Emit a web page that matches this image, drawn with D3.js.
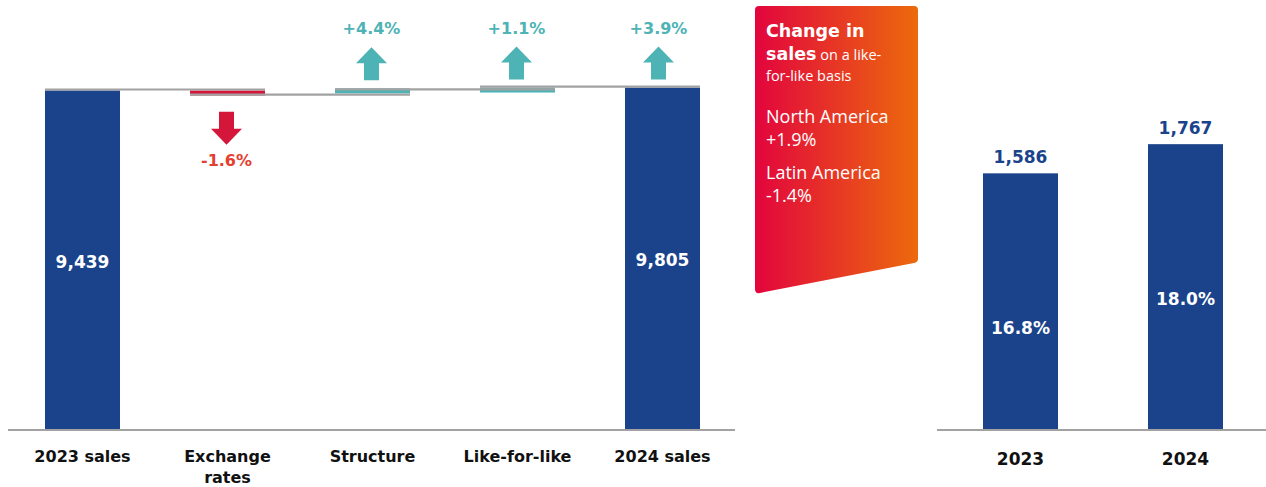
<!DOCTYPE html>
<html>
<head>
<meta charset="utf-8">
<script src="https://cdn.jsdelivr.net/npm/d3@7"></script>
<style>
  html, body { margin: 0; padding: 0; background: #fff; }
  svg { display: block; font-family: "Open Sans", "Noto Sans", sans-serif; }
  .b { font-family: "DejaVu Sans", "Open Sans", sans-serif; font-weight: 700; }
</style>
</head>
<body>
<svg id="chart" width="1266" height="487"></svg>
<script>
// ---- data ----
const wfCategories = ["2023 sales", "Exchange rates", "Structure", "Like-for-like", "2024 sales"];
const salesStart = 9439;
const salesEnd = 9805;
const stepPct = [-1.6, 4.4, 1.1];      // exchange rates, structure, like-for-like
const totalPct = 3.9;
const lflRegions = ["North America", "Latin America"];
const lflRegionPct = [1.9, -1.4];
const ebitYears = ["2023", "2024"];
const ebitValues = [1586, 1767];
const marginPct = [16.8, 18.0];

// ---- style ----
const NAVY = "#1a438b", TEAL = "#4db3b5", RED = "#d3163a", RED_TXT = "#e5402f", GREY = "#a2a2a2";
const svg = d3.select("#chart");
const fmt = d3.format(",");
const pct = v => (v > 0 ? "+" : "") + v.toFixed(1) + "%";
const baseY = 429, barW = 75;

// ================= waterfall =================
const xW = d3.scalePoint().domain(wfCategories).range([10, 735]).padding(0.5);
// compressed axis: the range above 9,000 is stretched so the steps stay legible
const yW = d3.scaleLinear().domain([0, 9000, 10000]).range([baseY, 94, 86]);

// running totals
const steps = stepPct.map(p => salesStart * p / 100);
const levels = [salesStart];
steps.forEach(s => levels.push(levels[levels.length - 1] + s));

const gW = svg.append("g");

// step bars (minimum visible thickness)
const minH = 5;
steps.forEach((s, i) => {
  const a = levels[i], b = levels[i + 1];
  const top = Math.min(yW(a), yW(b));
  const h = Math.max(Math.abs(yW(a) - yW(b)), minH);
  gW.append("rect")
    .attr("x", xW(wfCategories[i + 1]) - barW / 2).attr("y", top)
    .attr("width", barW).attr("height", h)
    .attr("fill", s < 0 ? RED : TEAL);
});

// total bars
[[wfCategories[0], salesStart], [wfCategories[4], salesEnd]].forEach(([c, v]) => {
  gW.append("rect")
    .attr("x", xW(c) - barW / 2).attr("y", yW(v))
    .attr("width", barW).attr("height", baseY - yW(v))
    .attr("fill", NAVY);
  gW.append("text").attr("class", "b")
    .attr("x", xW(c)).attr("y", yW(v) + 178)
    .attr("text-anchor", "middle")
    .attr("font-size", 17).attr("fill", "#fff")
    .text(fmt(v));
});

// connector lines between consecutive bars
const connLevels = [salesStart, levels[1], levels[2], salesEnd];
const connOffset = [-1, 3, 1, -1];
connLevels.forEach((v, i) => {
  gW.append("line")
    .attr("x1", xW(wfCategories[i]) - barW / 2)
    .attr("x2", xW(wfCategories[i + 1]) + barW / 2)
    .attr("y1", yW(v) + connOffset[i]).attr("y2", yW(v) + connOffset[i])
    .attr("stroke", GREY).attr("stroke-width", 2.2);
});

// arrows and percentage labels
function arrow(cx, y0, dir, color) {
  // dir = -1 : pointing up, base at y0 ; dir = 1 : pointing down, base at y0
  const shaftW = 15, headW = 31, shaftL = 17, headL = 16;
  const p = d3.path();
  p.moveTo(cx - shaftW / 2, y0);
  p.lineTo(cx - shaftW / 2, y0 + dir * shaftL);
  p.lineTo(cx - headW / 2, y0 + dir * shaftL);
  p.lineTo(cx, y0 + dir * (shaftL + headL));
  p.lineTo(cx + headW / 2, y0 + dir * shaftL);
  p.lineTo(cx + shaftW / 2, y0 + dir * shaftL);
  p.lineTo(cx + shaftW / 2, y0);
  p.closePath();
  gW.append("path").attr("d", p.toString()).attr("fill", color);
}
const arrowItems = stepPct.map((p, i) => ({ cat: wfCategories[i + 1], pct: p, lo: levels[i], hi: levels[i + 1] }))
  .concat([{ cat: wfCategories[4], pct: totalPct, lo: salesEnd, hi: salesEnd }]);
arrowItems.forEach(d => {
  const cx = xW(d.cat) - (d.cat === wfCategories[4] ? 4 : 1);
  if (d.pct < 0) {
    const y0 = Math.max(yW(d.lo), yW(d.hi)) + minH + 15;
    arrow(cx, y0, 1, RED);
    gW.append("text").attr("class", "b").attr("x", cx).attr("y", y0 + 54)
      .attr("text-anchor", "middle").attr("font-size", 16)
      .attr("fill", RED_TXT).text(pct(d.pct));
  } else {
    const y0 = Math.min(yW(d.lo), yW(d.hi)) - 8;
    arrow(cx, y0, -1, TEAL);
    gW.append("text").attr("class", "b").attr("x", cx).attr("y", y0 - 46)
      .attr("text-anchor", "middle").attr("font-size", 16)
      .attr("fill", TEAL).text(pct(d.pct));
  }
});

// baseline + category labels
gW.append("line").attr("x1", 8).attr("x2", 735).attr("y1", baseY + 1).attr("y2", baseY + 1)
  .attr("stroke", GREY).attr("stroke-width", 2);
wfCategories.forEach(c => {
  const words = c === "Exchange rates" ? ["Exchange", "rates"] : [c];
  const t = gW.append("text").attr("class", "b").attr("x", xW(c)).attr("y", 462)
    .attr("text-anchor", "middle").attr("font-size", 16).attr("fill", "#111");
  words.forEach((w, k) => t.append("tspan").attr("x", xW(c)).attr("dy", k ? 21 : 0).text(w));
});

// ================= like-for-like callout =================
const defs = svg.append("defs");
const grad = defs.append("linearGradient").attr("id", "lflGrad").attr("x1", "0%").attr("x2", "100%");
grad.append("stop").attr("offset", "0%").attr("stop-color", "#e2053d");
grad.append("stop").attr("offset", "100%").attr("stop-color", "#ec6a0c");
svg.append("path")
  .attr("d", "M755,10 Q755,6 759,6 L914,6 Q918,6 918,10 L918,259 Q918,262 914,263 L760,293 Q755,294 755,289 Z")
  .attr("fill", "url(#lflGrad)");
const gB = svg.append("g").attr("fill", "#fff");
gB.append("text").attr("class", "b").attr("x", 766).attr("y", 37).attr("font-size", 17.5).text("Change in");
const t2 = gB.append("text").attr("x", 766).attr("y", 60);
t2.append("tspan").attr("class", "b").attr("font-size", 17.5).text("sales");
t2.append("tspan").attr("font-size", 14.5).text(" on a like-");
gB.append("text").attr("x", 766).attr("y", 81).attr("font-size", 14.5).text("for-like basis");
lflRegions.forEach((r, i) => {
  const y = 123 + i * 56;
  gB.append("text").attr("x", 766).attr("y", y).attr("font-size", 18).text(r);
  gB.append("text").attr("x", 766).attr("y", y + 23).attr("font-size", 18).text(pct(lflRegionPct[i]));
});

// ================= EBIT bars =================
const xR = d3.scalePoint().domain(ebitYears).range([938, 1268]).padding(0.5);
const yR = d3.scaleLinear().domain([0, 2000]).range([baseY, 106.6]);
const gR = svg.append("g");
ebitYears.forEach((yr, i) => {
  const v = ebitValues[i];
  gR.append("rect").attr("x", xR(yr) - barW / 2).attr("y", yR(v))
    .attr("width", barW).attr("height", baseY - yR(v)).attr("fill", NAVY);
  gR.append("text").attr("class", "b").attr("x", xR(yr)).attr("y", yR(v) - 10)
    .attr("text-anchor", "middle").attr("font-size", 17).attr("fill", NAVY)
    .text(fmt(v));
  gR.append("text").attr("class", "b").attr("x", xR(yr)).attr("y", yR(v) + 161)
    .attr("text-anchor", "middle").attr("font-size", 17).attr("fill", "#fff")
    .text(marginPct[i].toFixed(1) + "%");
  gR.append("text").attr("class", "b").attr("x", xR(yr)).attr("y", 465)
    .attr("text-anchor", "middle").attr("font-size", 17).attr("fill", "#111")
    .text(yr);
});
gR.append("line").attr("x1", 937).attr("x2", 1266).attr("y1", baseY + 1).attr("y2", baseY + 1)
  .attr("stroke", GREY).attr("stroke-width", 2);
</script>
</body>
</html>
